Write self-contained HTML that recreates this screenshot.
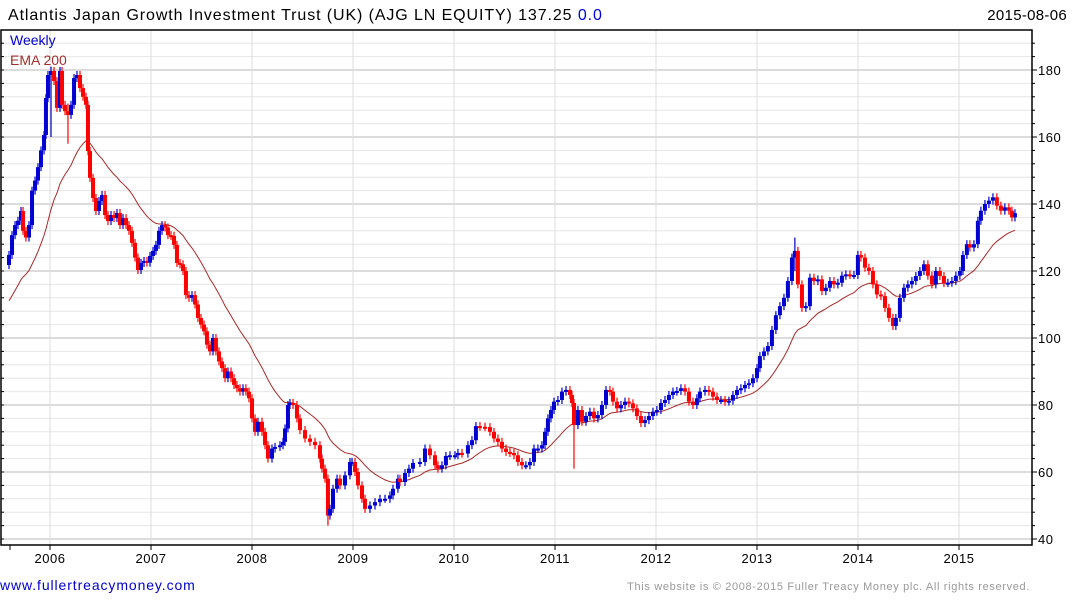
<!DOCTYPE html>
<html><head><meta charset="utf-8">
<style>
html,body{margin:0;padding:0;background:#fff;width:1075px;height:600px;overflow:hidden;font-family:"Liberation Sans",Arial,sans-serif;}
svg text{font-family:"Liberation Sans",Arial,sans-serif;}
</style></head>
<body>
<svg id="chart" width="1075" height="600" xmlns="http://www.w3.org/2000/svg">
<text x="8" y="20" font-size="16" letter-spacing="0.9" fill="#000">Atlantis Japan Growth Investment Trust (UK) (AJG LN EQUITY) 137.25 <tspan fill="#0000dd">0.0</tspan></text>
<text x="1067" y="20" font-size="15" letter-spacing="0.3" text-anchor="end" fill="#000">2015-08-06</text>
<g id="grid"></g>
<g id="ema"></g>
<g id="bars"></g>
<g id="axes"></g>
<text x="10" y="45" font-size="14" fill="#0000cc">Weekly</text>
<text x="10" y="65" font-size="14" fill="#a03030">EMA 200</text>
<text x="0" y="590" font-size="14" letter-spacing="0.9" fill="#0000cc">www.fullertreacymoney.com</text>
<text x="1030" y="590" font-size="11" letter-spacing="0.65" text-anchor="end" fill="#999">This website is © 2008-2015 Fuller Treacy Money plc. All rights reserved.</text>
</svg>
<script>
const dates = [2005.594,2005.624,2005.654,2005.683,2005.713,2005.733,2005.762,2005.792,2005.822,2005.852,2005.881,2005.911,2005.941,2005.960,2005.980,2006.010,2006.040,2006.069,2006.099,2006.119,2006.149,2006.178,2006.208,2006.238,2006.267,2006.297,2006.327,2006.356,2006.376,2006.396,2006.426,2006.455,2006.485,2006.515,2006.545,2006.574,2006.604,2006.634,2006.663,2006.693,2006.723,2006.753,2006.782,2006.812,2006.842,2006.871,2006.901,2006.931,2006.960,2006.990,2007.020,2007.049,2007.079,2007.109,2007.139,2007.168,2007.198,2007.228,2007.257,2007.287,2007.317,2007.346,2007.376,2007.406,2007.436,2007.465,2007.495,2007.525,2007.554,2007.584,2007.614,2007.643,2007.673,2007.703,2007.733,2007.762,2007.792,2007.822,2007.851,2007.881,2007.911,2007.940,2007.970,2008.000,2008.030,2008.059,2008.099,2008.129,2008.158,2008.198,2008.228,2008.277,2008.307,2008.327,2008.356,2008.376,2008.406,2008.445,2008.475,2008.525,2008.574,2008.624,2008.673,2008.693,2008.723,2008.752,2008.772,2008.802,2008.842,2008.871,2008.921,2008.970,2008.990,2009.020,2009.049,2009.089,2009.119,2009.168,2009.218,2009.267,2009.317,2009.366,2009.396,2009.445,2009.465,2009.515,2009.554,2009.594,2009.663,2009.713,2009.762,2009.812,2009.841,2009.881,2009.920,2009.960,2010.010,2010.039,2010.079,2010.138,2010.178,2010.217,2010.257,2010.307,2010.356,2010.396,2010.435,2010.475,2010.515,2010.554,2010.594,2010.633,2010.673,2010.712,2010.752,2010.792,2010.831,2010.871,2010.901,2010.930,2010.960,2010.990,2011.029,2011.069,2011.109,2011.148,2011.168,2011.188,2011.227,2011.267,2011.307,2011.346,2011.386,2011.425,2011.465,2011.505,2011.544,2011.574,2011.614,2011.653,2011.693,2011.732,2011.772,2011.811,2011.851,2011.891,2011.930,2011.970,2012.009,2012.049,2012.089,2012.128,2012.168,2012.207,2012.247,2012.287,2012.326,2012.366,2012.405,2012.435,2012.485,2012.524,2012.564,2012.604,2012.643,2012.683,2012.722,2012.762,2012.802,2012.841,2012.881,2012.920,2012.960,2013.000,2013.029,2013.069,2013.108,2013.148,2013.187,2013.227,2013.267,2013.306,2013.346,2013.375,2013.405,2013.445,2013.484,2013.524,2013.564,2013.603,2013.643,2013.682,2013.722,2013.762,2013.801,2013.841,2013.880,2013.920,2013.960,2013.999,2014.029,2014.069,2014.108,2014.148,2014.187,2014.227,2014.267,2014.306,2014.346,2014.375,2014.415,2014.455,2014.494,2014.534,2014.573,2014.613,2014.653,2014.692,2014.732,2014.771,2014.811,2014.851,2014.890,2014.930,2014.969,2015.009,2015.039,2015.078,2015.108,2015.148,2015.187,2015.217,2015.257,2015.296,2015.336,2015.375,2015.415,2015.454,2015.494,2015.524,2015.554];
const closes = [124.8,130.7,133.7,135,137.9,132,130,133.7,144,147,151,156,160.6,171.6,178.5,179.7,176.7,168.7,179.7,169.6,167.7,166.6,169.6,177.6,178.5,174.6,172,169.6,155.8,147.8,141.8,137.9,140.9,142.7,136.7,134.9,136.7,135.8,137.3,133.7,135.8,133.7,132,128.4,124,120.3,122.4,123,122.5,124.5,126,127.8,132,133.7,133,130.7,130.5,127.8,122.4,122,120,112.8,112,112.8,110,106,104,102,98,96,100,96,93,91,88,90,88,86,85,84,85,84,82,76,72,75,72,68,64,67,67.5,68,69,73,80,80.6,80,76,72.5,70,69,68,64,61,58,47,49,55,58,56,59,63,63,60,56,52,49,50,51,52,52,53,55,58,57,59.7,61,62.7,63,67,65,62,61,62,64.8,65,65,65.7,65.5,68,69.5,73.7,73.5,73.4,72,70,69,67,66,65.7,65,63,62,62,63,67,67,68,72,76,78.5,81,81.5,84,84.5,83,80.6,74,78.5,75,76.7,78,76,77,80,84.5,84,81,79,80,81,80.5,79,76.7,74.6,75.5,76.7,78,78.5,80.6,81.5,83,84,84.2,85,84,81,80,82,84,84.5,84,82.5,81.5,81.5,81,81.3,83,84.5,85,86,86.5,88,91,94.6,96,97.6,102.4,106.8,109.5,112,117,124,126,116,109,109.5,118,117,117.5,114,115,117,116,116.5,118.6,119,118.8,118.8,124.8,124,121,120,116,113,112.5,109,106,103.6,106,112,115,116,117,118.5,120,122,118.6,116,120,118.5,116.4,116.5,117,118.6,120,124.8,128,127,128,135,138,140,141,142,139.5,138,139,138,136,137.25];
// notable intraweek extremes
const spikeDates = [2006.010, 2008.752, 2011.188, 2013.375, 2006.178];
const spikeLows  = [160, 44, 61, 120, 158];
const spikeHighs = [181, 52, 80.6, 130, 170];
const yTicks = [40,60,80,100,120,140,160,180];
const xYears = [2006,2007,2008,2009,2010,2011,2012,2013,2014,2015];
const emaSeed = 110;

const NS="http://www.w3.org/2000/svg";
const L=1, R=1032, T=30, B=545;
function yS(p){return 539-(p-40)*3.35;}
function xS(d){return 50+(d-2006)*101;}
function mk(tag,attrs,parent){const e=document.createElementNS(NS,tag);for(const k in attrs)e.setAttribute(k,attrs[k]);parent.appendChild(e);return e;}
const grid=document.getElementById('grid'),axes=document.getElementById('axes'),bars=document.getElementById('bars'),emaG=document.getElementById('ema');

for(let p=40;p<=188;p+=4){
  const y=yS(p);
  const major=(p%20===0);
  const ln=mk('line',{x1:L,x2:R,y1:y,y2:y,stroke:major?'#b8b8b8':'#e6e6e6','stroke-width':1},grid);
  
  
  const t1=mk('line',{x1:R,x2:R+(major?5:3),y1:y,y2:y,stroke:'#000'},axes);
  
  
  const t2=mk('line',{x1:L,x2:L+3,y1:y,y2:y,stroke:'#000'},axes);
  
  
}
yTicks.forEach(p=>{
  const t=mk('text',{x:R+6,y:yS(p)+5,'font-size':13,'letter-spacing':0.5,fill:'#000'},axes);
  t.textContent=p;
  
  
});
xYears.forEach(yr=>{
  const x=xS(yr);
  const g=mk('line',{x1:x,x2:x,y1:T,y2:B,stroke:'#dcdcdc'},grid);
  
  
  const tk=mk('line',{x1:x,x2:x,y1:B,y2:B+5,stroke:'#000'},axes);
  
  
  const t=mk('text',{x:x,y:563,'font-size':13,'letter-spacing':0.5,'text-anchor':'middle',fill:'#000'},axes);
  t.textContent=yr;
  
  
});
const st=mk('line',{x1:10,x2:10,y1:B,y2:B+5,stroke:'#000'},axes);


const frame=mk('path',{d:`M${L},${T} H${R} V${B} H${L} Z`,fill:'none',stroke:'#000','stroke-width':1.5},axes);



let prev=closes[0]-3;
for(let i=0;i<closes.length;i++){
  const c=closes[i],o=prev,d=dates[i],x=xS(d);
  const up=c>=o, col=up?'#0000d0':'#ff0000';
  let hi=Math.max(o,c)+1.2, lo=Math.min(o,c)-1.2;
  const si=spikeDates.indexOf(d);
  if(si>=0){lo=Math.min(lo,spikeLows[si]);hi=Math.max(hi,spikeHighs[si]);}
  const w=mk('line',{x1:x,x2:x,y1:yS(hi),y2:yS(lo),stroke:col,'stroke-width':1.2},bars);
  
  
  const top=yS(Math.max(o,c)),h=Math.max(2,yS(Math.min(o,c))-top);
  const r=mk('rect',{x:x-2,y:top,width:4,height:h,fill:col},bars);
  
  
  prev=c;
}
let e=emaSeed, pts=[], lastD=dates[0]-0.03;
for(let i=0;i<closes.length;i++){
  const dt=dates[i]-lastD; lastD=dates[i];
  const a=1-Math.exp(-dt/0.38);
  e=e+a*(closes[i]-e);
  pts.push(xS(dates[i]).toFixed(1)+','+yS(e).toFixed(1));
}
const pl=mk('polyline',{points:pts.join(' '),fill:'none',stroke:'#a52a2a','stroke-width':1},emaG);


</script>
</body></html>
